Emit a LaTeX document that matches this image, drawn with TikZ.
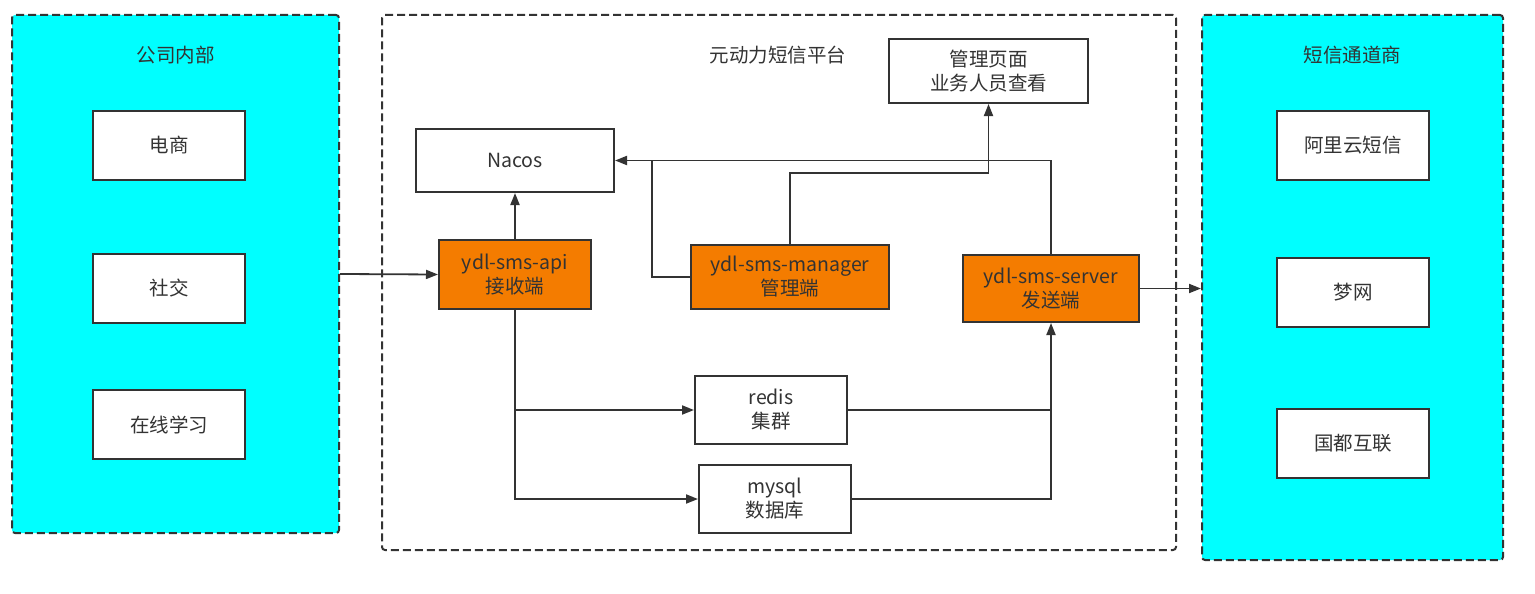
\documentclass[tikz,border=0pt]{standalone}
\usepackage{fontspec}
\setmainfont{Noto Sans CJK SC}
\usetikzlibrary{arrows.meta}
\definecolor{ink}{HTML}{333333}
\definecolor{aqua}{HTML}{00FFFF}
\definecolor{orng}{HTML}{F47C00}
\tikzset{
  box/.style={draw=ink, line width=2pt, fill=white, inner sep=0pt, text=ink,
    align=center, font=\fontsize{19.5}{24}\selectfont},
  hot/.style={box, fill=orng},
  group/.style={draw=ink, line width=2pt, dash pattern=on 8pt off 4pt, rounded corners=3pt, inner sep=0pt},
  title/.style={text=ink, font=\fontsize{19.5}{24}\selectfont},
  wire/.style={draw=ink, line width=1.8pt},
  arr/.style={wire, -{Triangle[length=12pt,width=9pt]}},
}
\begin{document}
\begin{tikzpicture}[x=1pt,y=-1pt]
\useasboundingbox (0,0) rectangle (1535,594);
% containers
\node[group, fill=aqua, minimum width=327pt, minimum height=518pt] (inner) at (175.5,274) {};
\node[group, fill=white, minimum width=794pt, minimum height=535pt] (platform) at (779,282.5) {};
\node[group, fill=aqua, minimum width=301pt, minimum height=545pt] (channel) at (1352.5,287.5) {};
% titles
\node[title] (t1) at (175.5,55) {公司内部};
\node[title] (t2) at (778,55) {元动力短信平台};
\node[title] (t3) at (1352.5,55) {短信通道商};
% left boxes
\node[box, minimum width=152pt, minimum height=69pt] (ec) at (169,145.5) {电商};
\node[box, minimum width=152pt, minimum height=69pt] (social) at (169,288.5) {社交};
\node[box, minimum width=152pt, minimum height=69pt] (learn) at (169,424.5) {在线学习};
% right boxes
\node[box, minimum width=152pt, minimum height=69pt] (ali) at (1353,145.5) {阿里云短信};
\node[box, minimum width=152pt, minimum height=69pt] (meng) at (1353,292.5) {梦网};
\node[box, minimum width=152pt, minimum height=69pt] (guodu) at (1353,443.5) {国都互联};
% platform boxes
\node[box, minimum width=199pt, minimum height=64pt] (page) at (988.5,71) {管理页面\\业务人员查看};
\node[box, minimum width=198pt, minimum height=63pt] (nacos) at (515,160.5) {Nacos};
\node[hot, minimum width=152pt, minimum height=69pt] (api) at (515,274.5) {ydl-sms-api\\接收端};
\node[hot, minimum width=198pt, minimum height=64pt] (mgr) at (790,277) {ydl-sms-manager\\管理端};
\node[hot, minimum width=176pt, minimum height=67pt] (server) at (1051,288.5) {ydl-sms-server\\发送端};
\node[box, minimum width=152pt, minimum height=68pt] (redis) at (771,410) {redis\\集群};
\node[box, minimum width=152pt, minimum height=68pt] (mysql) at (775,499) {mysql\\数据库};
% connectors
\draw[arr] (inner.east) -- (api.west);
\draw[arr] (api.north) -- (nacos.south);
\draw[arr] (server.north) |- (nacos.east);
\coordinate (jn) at (652,160.5);
\draw[wire] (mgr.west) -| (jn);
\draw[arr] (mgr.north) -- ++(0,-71) -| (page.south);
\draw[arr] (server.east) -- (channel.west |- server.east);
\draw[arr] (api.south) |- (redis.west);
\draw[arr] (api.south) |- (mysql.west);
\draw[arr] (mysql.east) -| (server.south);
\draw[wire] (redis.east) -- (redis.east -| server.south);
\end{tikzpicture}
\end{document}
